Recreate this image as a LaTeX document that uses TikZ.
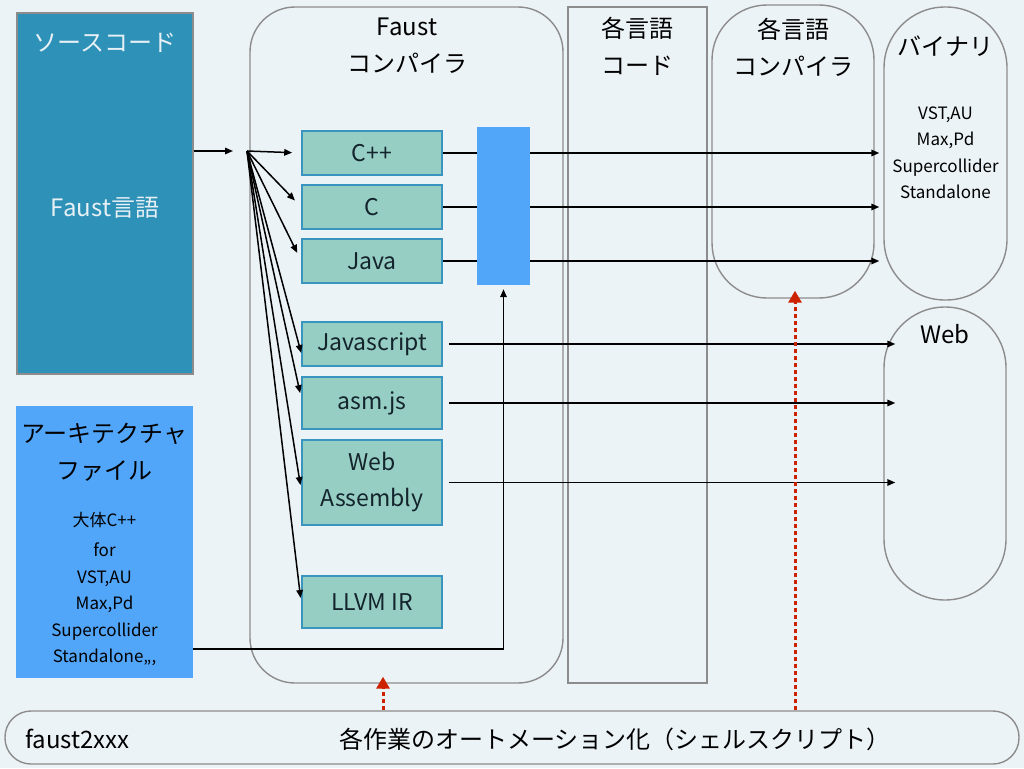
\documentclass[tikz,border=0pt]{standalone}
\usepackage{fontspec}
\setmainfont{Noto Sans CJK JP}
\usetikzlibrary{positioning,calc,arrows.meta}
\definecolor{bgcol}{RGB}{236,243,247}
\definecolor{srcblue}{RGB}{46,145,184}
\definecolor{archblue}{RGB}{82,166,250}
\definecolor{langgreen}{RGB}{150,206,195}
\definecolor{greenedge}{RGB}{58,149,190}
\definecolor{greyline}{RGB}{140,140,140}
\definecolor{redauto}{RGB}{204,34,0}
\definecolor{srctext}{RGB}{230,240,245}
\definecolor{darktext}{RGB}{20,36,44}

\begin{document}
\begin{tikzpicture}[x=1pt,y=-1pt,
  frame/.style={draw=greyline, line width=1.4pt},
  langbox/.style={draw=greenedge, line width=1.6pt, fill=langgreen, minimum width=140pt,
    text=darktext, font=\fontsize{23}{36}\selectfont, align=center, inner sep=0pt},
  title/.style={font=\fontsize{24}{37}\selectfont, align=center, inner sep=0pt},
  small/.style={font=\fontsize{17}{26.5}\selectfont, align=center, inner sep=0pt},
  flow/.style={line width=1.5pt, -{Triangle[length=8pt,width=6.5pt]}},
  link/.style={line width=1.5pt},
  autoline/.style={redauto, line width=3pt, dash pattern=on 4pt off 3pt,
    -{Triangle[length=12pt,width=13pt]}}]

  % canvas
  \useasboundingbox (0,0) rectangle (1024,768);
  \fill[bgcol] (0,0) rectangle (1024,768);

  % stage frames
  \node[frame, rounded corners=45pt, minimum width=313pt, minimum height=676pt] (faust) at (406.5,345) {};
  \node[frame, minimum width=139pt, minimum height=676pt] (code) at (637.5,345) {};
  \node[frame, rounded corners=55pt, minimum width=162pt, minimum height=293pt] (langc) at (793,151.5) {};
  \node[frame, rounded corners=61pt, minimum width=123pt, minimum height=293pt] (bin) at (945.5,153.5) {};
  \node[frame, rounded corners=61pt, minimum width=122pt, minimum height=293pt] (web) at (945,453.5) {};
  \node[frame, rounded corners=26pt, minimum width=1014pt, minimum height=53pt] (autobar) at (512,737.5) {};

  % inputs
  \node[frame, fill=srcblue, minimum width=176pt, minimum height=361pt] (src) at (105,193.5) {};
  \node[fill=archblue, minimum width=177pt, minimum height=272pt] (arch) at (104.5,542) {};

  % titles
  \node[title, text=srctext] (srclbl) at (105,43) {ソースコード};
  \node[title, text=srctext] (srclang) at (105,208) {Faust言語};
  \node[title] (archlbl) at (104.5,452) {アーキテクチャ\\ファイル};
  \node[small] (archlist) at (104.5,589) {大体C++\\[4pt]for\\VST,AU\\Max,Pd\\Supercollider\\Standalone,,,};
  \node[title] (faustlbl) at (407,46) {Faust\\コンパイラ};
  \node[title] (codelbl) at (637.5,46) {各言語\\コード};
  \node[title] (langclbl) at (793,47) {各言語\\コンパイラ};
  \node[title] (binlbl) at (945.5,46) {バイナリ};
  \node[small] (binlist) at (945.5,153) {VST,AU\\Max,Pd\\Supercollider\\Standalone};
  \node[title] (weblbl) at (945,334) {Web};
  \node[title, anchor=west] (f2x) at (25,739) {faust2xxx};
  \node[title] (autolbl) at (615,739) {各作業のオートメーション化（シェルスクリプト）};

  % target languages
  \node[langbox, minimum height=44pt] (cpp) at (372,153) {C++};
  \node[langbox, minimum height=44pt] (c) at (372,207) {C};
  \node[langbox, minimum height=44pt] (java) at (372,261) {Java};
  \node[langbox, minimum height=44pt] (js) at (372,344) {Javascript};
  \node[langbox, minimum height=52pt] (asm) at (372,403) {asm.js};
  \node[langbox, minimum height=85pt] (wasm) at (372,482.5) {Web\\Assembly};
  \node[langbox, minimum height=52pt] (llvm) at (372,602) {LLVM IR};

  % architecture glue
  \node[fill=archblue, minimum width=53pt, minimum height=158pt] (glue) at (503.5,206) {};

  % fan out of the compiler
  \coordinate (fan) at (247,151);
  \draw[flow, shorten >=14pt] (src.east |- fan) -- (fan);
  \foreach \n/\dy/\gap in {cpp/0/9, c/0/9, java/0/9, js/-9/0, asm/5/5, wasm/-7.5/5, llvm/-1/5}
    \draw[flow, shorten >=\gap pt] (fan) -- ([yshift=\dy pt]\n.west);

  % outputs to binaries
  \foreach \n in {cpp, c, java} {
    \draw[link] (\n.east) -- (\n.east -| glue.west);
    \draw[flow, shorten >=4pt] (\n.east -| glue.east) -- (\n.east -| bin.west);
  }

  % outputs to web
  \foreach \n in {js, asm, wasm}
    \draw[flow] ($(\n.east)+(6,0)$) -- ($(\n.east -| web.west)+(12,0)$);

  % architecture file into the glue
  \draw[flow, shorten >=4pt] ([yshift=-107pt]arch.east) -| (glue.south);

  % automation
  \draw[autoline] ($(faust.south |- autobar.north)+(-23.5,0)$) -- ($(faust.south)+(-23.5,-7)$);
  \draw[autoline] ($(langc.south |- autobar.north)+(2,0)$) -- ($(langc.south)+(2,-8)$);

\end{tikzpicture}
\end{document}
